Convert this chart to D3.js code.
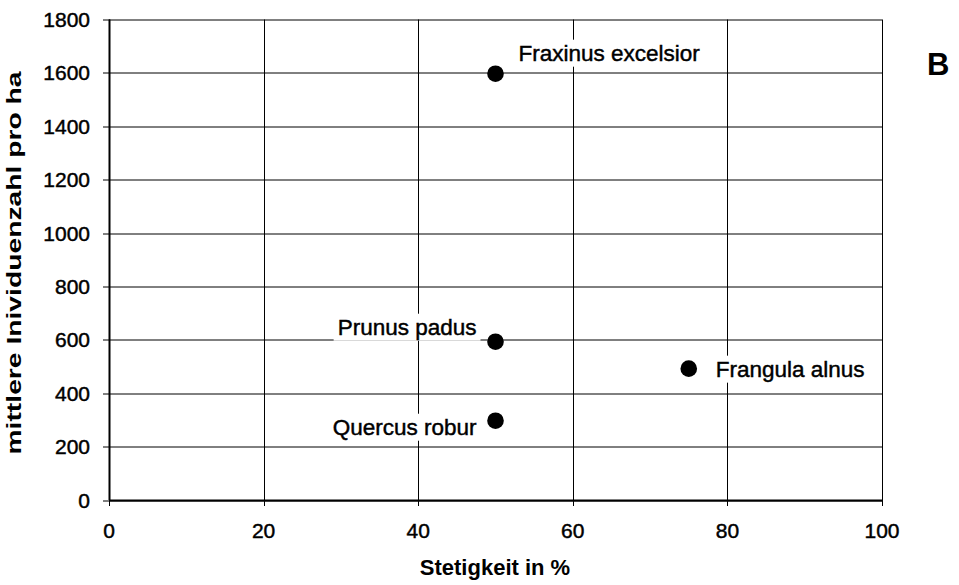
<!DOCTYPE html>
<html>
<head>
<meta charset="utf-8">
<script src="https://cdn.jsdelivr.net/npm/d3@7"></script>
<style>
  body { margin: 0; background: #fff; }
  text { font-family: "Liberation Sans", Arial, sans-serif; fill: #000; }
  .heavy { stroke: #000; stroke-width: 0.45px; }
</style>
</head>
<body>
<svg width="959" height="585"></svg>
<script>
// data
var species = ["Fraxinus excelsior", "Prunus padus", "Quercus robur", "Frangula alnus"];
var stetigkeit = [50, 50, 50, 75];
var individuen = [1597, 593, 297, 492];
var labelSide = ["right-up", "left-up", "left-down", "right"];
var xTicks = [0, 20, 40, 60, 80, 100];
var yTicks = [0, 200, 400, 600, 800, 1000, 1200, 1400, 1600, 1800];

var svg = d3.select("svg"),
    margin = {left: 109, right: 77, top: 19.5, bottom: 85},
    width = +svg.attr("width") - margin.left - margin.right,
    height = +svg.attr("height") - margin.top - margin.bottom;

var x = d3.scaleLinear().domain([0, 100]).range([0, width]);
var y = d3.scaleLinear().domain([0, 1800]).range([height, 0]);

var g = svg.append("g").attr("transform", "translate(" + margin.left + "," + margin.top + ")");

// grid (with the little outside ticks)
g.append("g").selectAll("line").data(yTicks).enter().append("line")
    .attr("x1", -6).attr("x2", width)
    .attr("y1", function (d) { return Math.round(y(d)) + 0.5; })
    .attr("y2", function (d) { return Math.round(y(d)) + 0.5; })
    .attr("stroke", "#000").attr("stroke-width", 1);

g.append("g").selectAll("line").data(xTicks).enter().append("line")
    .attr("x1", function (d) { return Math.round(x(d)) + 0.5; })
    .attr("x2", function (d) { return Math.round(x(d)) + 0.5; })
    .attr("y1", 0).attr("y2", height + 6)
    .attr("stroke", "#000").attr("stroke-width", 1);

// axis lines a bit heavier
g.append("line").attr("x1", 0.5).attr("x2", 0.5).attr("y1", 0).attr("y2", height)
    .attr("stroke", "#000").attr("stroke-width", 2);
g.append("line").attr("x1", 0).attr("x2", width).attr("y1", height + 0.5).attr("y2", height + 0.5)
    .attr("stroke", "#000").attr("stroke-width", 2);

// tick labels
g.append("g").selectAll("text").data(yTicks).enter().append("text")
    .attr("class", "heavy")
    .attr("x", -19).attr("y", function (d) { return y(d); })
    .attr("dy", "0.36em")
    .attr("text-anchor", "end")
    .style("font-size", "21px")
    .text(function (d) { return d; });

g.append("g").selectAll("text").data(xTicks).enter().append("text")
    .attr("class", "heavy")
    .attr("x", function (d) { return x(d); }).attr("y", height + 37.5)
    .attr("text-anchor", "middle")
    .style("font-size", "21px")
    .text(function (d) { return d; });

// labels with white boxes behind them (they cover gridlines)
var offsets = {
  "right-up": {dx: 23, dy: -13, anchor: "start"},
  "left-up": {dx: -19, dy: -7, anchor: "end"},
  "left-down": {dx: -19, dy: 14, anchor: "end"},
  "right": {dx: 27, dy: 8, anchor: "start"}
};

species.forEach(function (name, i) {
  var o = offsets[labelSide[i]];
  var lg = g.append("g");
  var t = lg.append("text")
      .attr("class", "heavy")
      .attr("x", x(stetigkeit[i]) + o.dx)
      .attr("y", y(individuen[i]) + o.dy)
      .attr("text-anchor", o.anchor)
      .style("font-size", "22.5px")
      .text(name);
  var bb = t.node().getBBox();
  lg.insert("rect", "text")
      .attr("x", bb.x - 4).attr("y", bb.y - 1)
      .attr("width", bb.width + 8).attr("height", bb.height + 2)
      .attr("fill", "#fff");
});

// points
g.selectAll("circle").data(species).enter().append("circle")
    .attr("cx", function (d, i) { return x(stetigkeit[i]); })
    .attr("cy", function (d, i) { return y(individuen[i]); })
    .attr("r", 8.3)
    .attr("fill", "#000");

// axis titles
svg.append("text")
    .attr("x", 495).attr("y", 575)
    .attr("text-anchor", "middle")
    .style("font-size", "22px").style("font-weight", "bold")
    .text("Stetigkeit in %");

svg.append("text")
    .attr("transform", "translate(21,263) rotate(-90)")
    .attr("text-anchor", "middle")
    .attr("textLength", 383)
    .attr("lengthAdjust", "spacingAndGlyphs")
    .style("font-size", "21px").style("font-weight", "bold")
    .text("mittlere Inividuenzahl pro ha");

svg.append("text")
    .attr("x", 927).attr("y", 75)
    .style("font-size", "31px").style("font-weight", "bold")
    .text("B");
</script>
</body>
</html>
